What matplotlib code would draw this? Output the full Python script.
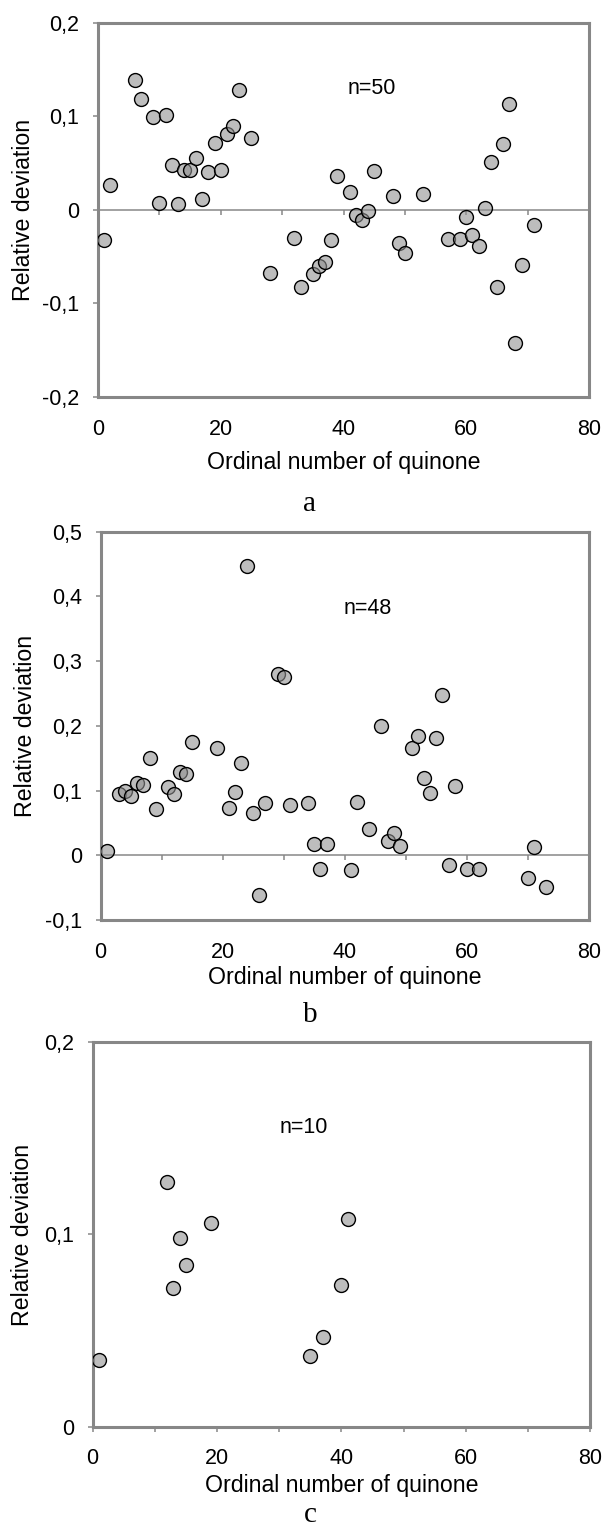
import numpy as np
import matplotlib
matplotlib.use('Agg')
import matplotlib.pyplot as plt
import matplotlib.ticker as mticker

# Panel a (n=50)
a_num = [1, 2, 6, 7, 9, 10, 11, 12, 13, 14, 15, 16, 17, 18, 19, 20, 21, 22, 23, 25,
         28, 32, 33, 35, 36, 37, 38, 39, 41, 42, 43, 44, 45, 48, 49, 50, 53, 57, 59, 60,
         61, 62, 63, 64, 65, 66, 67, 68, 69, 71]
a_dev = [-0.032, 0.026, 0.139, 0.118, 0.099, 0.007, 0.101, 0.048, 0.006, 0.043,
         0.043, 0.055, 0.012, 0.040, 0.071, 0.043, 0.081, 0.090, 0.128, 0.077,
         -0.068, -0.030, -0.083, -0.069, -0.060, -0.056, -0.032, 0.036, 0.019, -0.006,
         -0.011, -0.001, 0.041, 0.015, -0.036, -0.046, 0.017, -0.031, -0.031, -0.008,
         -0.027, -0.039, 0.002, 0.051, -0.082, 0.070, 0.113, -0.142, -0.059, -0.016]

# Panel b (n=48)
b_num = [1, 3, 4, 5, 6, 7, 8, 9, 11, 12, 13, 14, 15, 19, 21, 22, 23, 24, 25, 26,
         27, 29, 30, 31, 34, 35, 36, 37, 41, 42, 44, 46, 47, 48, 49, 51, 52, 53, 54, 55,
         56, 57, 58, 60, 62, 70, 71, 73]
b_dev = [0.006, 0.095, 0.100, 0.092, 0.112, 0.108, 0.151, 0.072, 0.106, 0.094,
         0.128, 0.126, 0.175, 0.166, 0.073, 0.098, 0.142, 0.447, 0.066, -0.061,
         0.081, 0.280, 0.275, 0.078, 0.081, 0.017, -0.021, 0.017, -0.023, 0.082,
         0.041, 0.200, 0.022, 0.034, 0.014, 0.166, 0.184, 0.120, 0.096, 0.181,
         0.248, -0.015, 0.107, -0.021, -0.021, -0.035, 0.013, -0.049]

# Panel c (n=10)
c_num = [1, 12, 13, 14, 15, 19, 35, 37, 40, 41]
c_dev = [0.035, 0.127, 0.072, 0.098, 0.084, 0.106, 0.037, 0.047, 0.074, 0.108]

GRAY = '#878787'
FILL = (0.57, 0.57, 0.57, 0.6)

plt.rcParams['font.family'] = ['Liberation Sans', 'DejaVu Sans']
SERIF = ['Liberation Serif', 'DejaVu Serif']


def comma_fmt(v, pos):
    """
    Decimal comma labels, plain 0 for zero
    """
    if abs(v) < 1e-9:
        return '0'
    return '{:.1f}'.format(v).replace('.', ',')


def draw_panel(fig, rect, xs, ys, ylim, ystep, n_text, n_pos, zero_axis, xlab_y, ylab_x):
    ax = fig.add_axes(rect)
    ax.plot(xs, ys, 'o', ms=10, mfc=FILL, mec='black', mew=1.0, zorder=3)

    ax.set_xlim(0, 80)
    ax.set_ylim(*ylim)
    ax.yaxis.set_major_locator(mticker.MultipleLocator(ystep))
    ax.yaxis.set_major_formatter(mticker.FuncFormatter(comma_fmt))
    ax.xaxis.set_major_locator(mticker.MultipleLocator(20))

    # Frame
    for sp in ax.spines.values():
        sp.set_color(GRAY)
        sp.set_linewidth(2.2)

    ax.tick_params(axis='y', direction='out', length=3.6, width=1.1, color=GRAY,
                   labelsize=15.5, pad=10)
    if zero_axis:
        # x labels stay at the bottom, tick marks sit on the zero line
        ax.tick_params(axis='x', length=0, labelsize=15.5, pad=16)
        frac = (0 - ylim[0]) / (ylim[1] - ylim[0])
        sec = ax.secondary_xaxis(frac)
        sec.set_alignment('bottom')
        sec.set_xticks(np.arange(10, 80, 10))
        sec.tick_params(axis='x', direction='out', length=3.6, width=1.1, color=GRAY,
                        labelbottom=False, labeltop=False)
        for sp in sec.spines.values():
            sp.set_color(GRAY)
            sp.set_linewidth(1.1)
    else:
        ax.xaxis.set_minor_locator(mticker.MultipleLocator(10))
        ax.tick_params(axis='x', which='both', direction='out', length=3.6, width=1.1,
                       color=GRAY, labelsize=15.5, pad=11.3)

    ax.set_xlabel('Ordinal number of quinone', fontsize=16.7, va='baseline')
    ax.xaxis.set_label_coords(0.5, xlab_y)
    ax.set_ylabel('Relative deviation', fontsize=16.7, va='baseline')
    ax.yaxis.set_label_coords(ylab_x, 0.5)

    ax.text(n_pos[0], n_pos[1], n_text, transform=ax.transAxes, ha='center', va='center',
            fontsize=15.5)
    return ax


fig = plt.figure(figsize=(6.05, 15.28), dpi=100, facecolor='white')

draw_panel(fig, [0.162, 0.7402, 0.8116, 0.245], a_num, a_dev, (-0.2, 0.2), 0.1,
           'n=50', (0.558, 0.823), True, -0.193, -0.1385)
draw_panel(fig, [0.1664, 0.3979, 0.8071, 0.2541], b_num, b_dev, (-0.1, 0.5), 0.1,
           'n=48', (0.547, 0.803), True, -0.1656, -0.1413)
draw_panel(fig, [0.1532, 0.0661, 0.822, 0.252], c_num, c_dev, (0, 0.2), 0.1,
           'n=10', (0.425, 0.777), False, -0.168, -0.128)

# Panel letters
for letter, base_px in [('a', 510.7), ('b', 1021.7), ('c', 1521.5)]:
    fig.text(310 / 605, 1 - base_px / 1528, letter, ha='center', va='baseline',
             fontsize=21, family=SERIF)

fig.savefig('out.png', dpi=100, facecolor='white')
